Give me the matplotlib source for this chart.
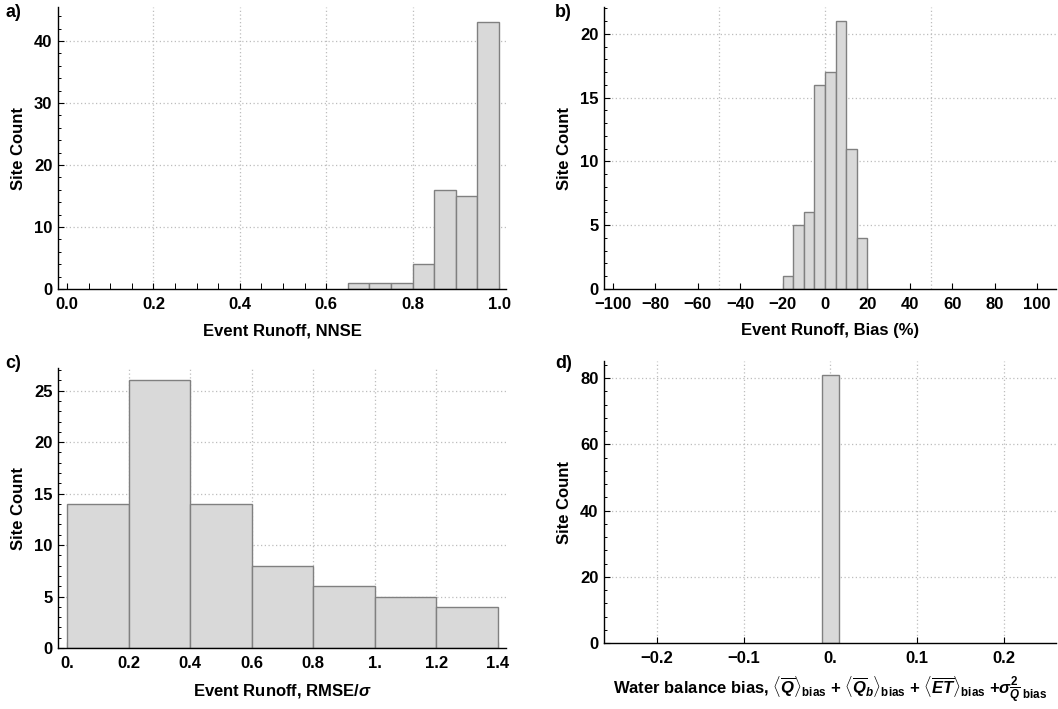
import numpy as np
import matplotlib.pyplot as plt
from matplotlib.ticker import MultipleLocator

plt.rcParams['font.family'] = ['Liberation Sans', 'DejaVu Sans']
plt.rcParams['font.weight'] = 'bold'
plt.rcParams['mathtext.fontset'] = 'custom'
plt.rcParams['mathtext.rm'] = 'Liberation Sans:bold'
plt.rcParams['mathtext.it'] = 'Liberation Sans:italic:bold'
plt.rcParams['mathtext.bf'] = 'Liberation Sans:bold'

# a) NNSE histogram
nnse_edges = [0.65, 0.70, 0.75, 0.80, 0.85, 0.90, 0.95, 1.00]
nnse_counts = [1, 1, 1, 4, 16, 15, 43]
nnse_ticks = [0.0, 0.2, 0.4, 0.6, 0.8, 1.0]
nnse_labels = ['0.0', '0.2', '0.4', '0.6', '0.8', '1.0']

# b) Bias (%) histogram
bias_edges = [-20, -15, -10, -5, 0, 5, 10, 15, 20]
bias_counts = [1, 5, 6, 16, 17, 21, 11, 4]
bias_ticks = [-100, -80, -60, -40, -20, 0, 20, 40, 60, 80, 100]

# c) RMSE/sigma histogram
rmse_edges = [0.0, 0.2, 0.4, 0.6, 0.8, 1.0, 1.2, 1.4]
rmse_counts = [14, 26, 14, 8, 6, 5, 4]
rmse_ticks = [0.0, 0.2, 0.4, 0.6, 0.8, 1.0, 1.2, 1.4]
rmse_labels = ['0.', '0.2', '0.4', '0.6', '0.8', '1.', '1.2', '1.4']

# d) water balance bias histogram
wb_edges = [-0.01, 0.01]
wb_counts = [81]
wb_ticks = [-0.2, -0.1, 0.0, 0.1, 0.2]
wb_labels = ['\u22120.2', '\u22120.1', '0.', '0.1', '0.2']

W, H = 1058, 709
fig = plt.figure(figsize=(W / 100, H / 100), dpi=100)


def px_axes(x0, y0, x1, y1):
    return fig.add_axes([x0 / W, 1 - y1 / H, (x1 - x0) / W, (y1 - y0) / H])


def style(ax, xgrid, ygrid, yminor, xminor=None):
    for s in ['top', 'right']:
        ax.spines[s].set_visible(False)
    for s in ['left', 'bottom']:
        ax.spines[s].set_linewidth(1.0)
    ax.tick_params(direction='in', length=4, width=0.8, labelsize=12)
    ax.tick_params(axis='x', pad=6)
    ax.tick_params(axis='y', pad=4)
    ax.tick_params(which='minor', direction='in', length=2.5, width=0.7)
    ax.yaxis.set_minor_locator(MultipleLocator(yminor))
    if xminor:
        ax.xaxis.set_minor_locator(MultipleLocator(xminor))
    for g in xgrid:
        ax.axvline(g, color='#bdbdbd', lw=0.9, ls=(0, (1, 2)), zorder=0)
    for g in ygrid:
        ax.axhline(g, color='#bdbdbd', lw=0.9, ls=(0, (1, 2)), zorder=0)
    ax.set_ylabel('Site Count', fontsize=12, fontweight='bold', labelpad=6)
    for lab in ax.get_xticklabels() + ax.get_yticklabels():
        lab.set_fontweight('bold')


def hist(ax, edges, counts):
    edges = np.array(edges, dtype=float)
    ax.bar(edges[:-1], counts, width=np.diff(edges), align='edge',
           color='#d9d9d9', edgecolor='#808080', linewidth=1.0, zorder=2)


# a
ax = px_axes(58, 7, 506, 289)
hist(ax, nnse_edges, nnse_counts)
ax.set_xlim(-0.021, 1.016)
ax.set_ylim(0, 45.5)
ax.set_xticks(nnse_ticks)
ax.set_xticklabels(nnse_labels)
ax.set_yticks([0, 10, 20, 30, 40])
style(ax, [0.2, 0.4, 0.6, 0.8], [10, 20, 30, 40], 2, 0.05)
ax.tick_params(which='minor', axis='x', length=4)
ax.set_xlabel('Event Runoff, NNSE', fontsize=12, fontweight='bold', labelpad=8)

# b
ax = px_axes(604, 7, 1056, 289)
hist(ax, bias_edges, bias_counts)
ax.set_xlim(-104.2, 109)
ax.set_ylim(0, 22.1)
ax.set_xticks(bias_ticks)
ax.set_yticks([0, 5, 10, 15, 20])
style(ax, [-50, 0, 50], [5, 10, 15, 20], 1)
ax.set_xlabel('Event Runoff, Bias (%)', fontsize=12, fontweight='bold', labelpad=8)

# c
ax = px_axes(58, 368, 506, 648)
hist(ax, rmse_edges, rmse_counts)
ax.set_xlim(-0.029, 1.426)
ax.set_ylim(0, 27.2)
ax.set_xticks(rmse_ticks)
ax.set_xticklabels(rmse_labels)
ax.set_yticks([0, 5, 10, 15, 20, 25])
style(ax, [0.2, 0.4, 0.6, 0.8, 1.0, 1.2], [5, 10, 15, 20, 25], 1)
ax.set_xlabel(r'Event Runoff, RMSE/$\sigma$', fontsize=12, fontweight='bold', labelpad=8)

# d
ax = px_axes(604, 361, 1056, 643)
hist(ax, wb_edges, wb_counts)
ax.set_xlim(-0.261, 0.26)
ax.set_ylim(0, 85.2)
ax.set_xticks(wb_ticks)
ax.set_xticklabels(wb_labels)
ax.set_yticks([0, 20, 40, 60, 80])
style(ax, [-0.2, -0.1, 0.0, 0.1, 0.2], [20, 40, 60, 80], 4)
ax.set_xlabel(r'Water balance bias, $\langle\overline{Q}\rangle_{\rm bias}$ + '
              r'$\langle\overline{Q}_b\rangle_{\rm bias}$ + '
              r'$\langle\overline{ET}\rangle_{\rm bias}$ +'
              r'$\sigma^2_{\overline{Q}\ \rm bias}$',
              fontsize=12, fontweight='bold', labelpad=6)

for t, x, y in [('a)', 5, 4), ('b)', 555, 4), ('c)', 5, 355), ('d)', 555, 355)]:
    fig.text(x / W, 1 - y / H, t, fontsize=13, fontweight='bold', va='top', ha='left')

fig.savefig('out.png', dpi=100)
